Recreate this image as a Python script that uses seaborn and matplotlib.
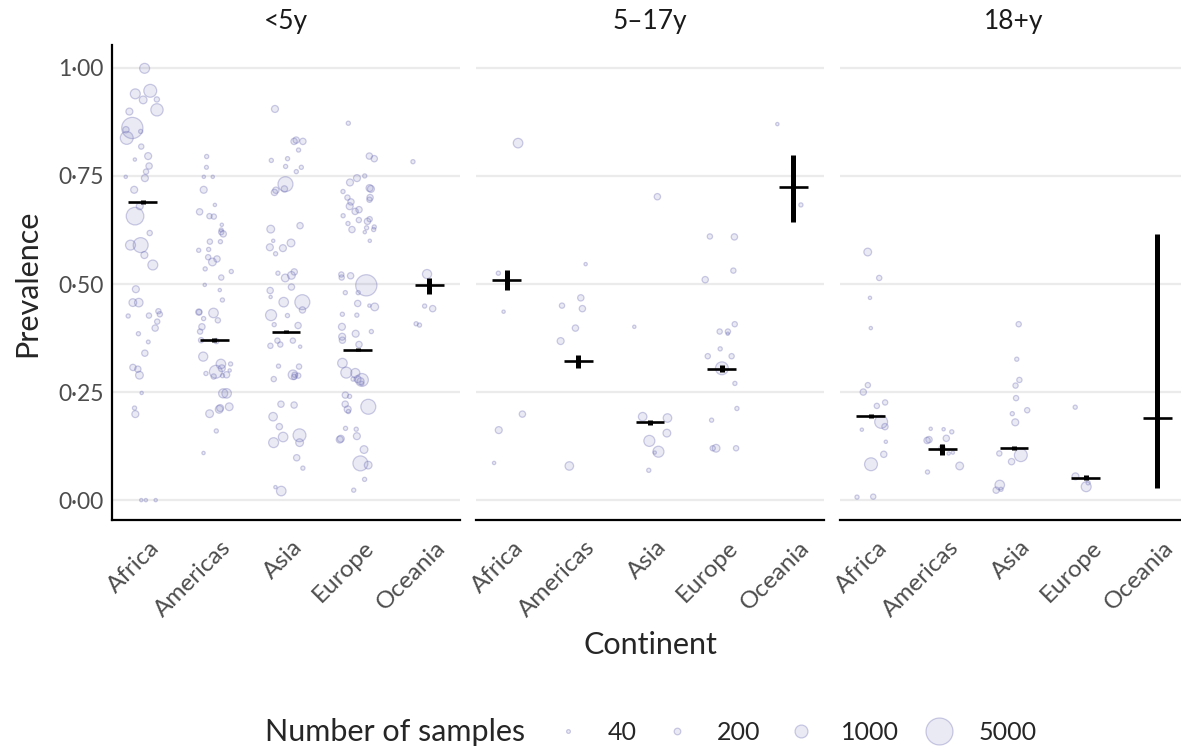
# Prevalence by continent and age group, bubbles sized by sample count
import numpy as np
import pandas as pd
import matplotlib
matplotlib.use("Agg")
import matplotlib.pyplot as plt
import matplotlib.transforms as mtransforms
from matplotlib.lines import Line2D
import seaborn as sns

continents = ["Africa", "Americas", "Asia", "Europe", "Oceania"]
age_groups = ["<5y", "5–17y", "18+y"]
ytick_vals = [0, 0.25, 0.5, 0.75, 1.0]
ytick_labels = ["0·00", "0·25", "0·50", "0·75", "1·00"]
legend_n = [40, 200, 1000, 5000]

# =========================
# Study-level points
# =========================

u5_prev = {
    "Africa": [0.999, 0.947, 0.94, 0.926, 0.927, 0.903, 0.899, 0.861, 0.838, 0.853, 0.857, 0.818,
               0.796, 0.788, 0.773, 0.76, 0.748, 0.745, 0.718, 0.68, 0.657, 0.618, 0.59, 0.59,
               0.567, 0.544, 0.488, 0.457, 0.457, 0.437, 0.43, 0.427, 0.413, 0.398, 0.385, 0.426,
               0.366, 0.34, 0.303, 0.307, 0.289, 0.248, 0.213, 0.199, 0.0, 0.0, 0.0],
    "Americas": [0.795, 0.77, 0.748, 0.748, 0.718, 0.683, 0.667, 0.656, 0.657, 0.637, 0.616, 0.62,
                 0.625, 0.598, 0.598, 0.58, 0.558, 0.562, 0.551, 0.578, 0.535, 0.529, 0.498, 0.515,
                 0.486, 0.463, 0.433, 0.416, 0.435, 0.435, 0.42, 0.401, 0.39, 0.37, 0.368, 0.332,
                 0.315, 0.315, 0.297, 0.305, 0.293, 0.3, 0.29, 0.288, 0.286, 0.247, 0.247, 0.213,
                 0.216, 0.21, 0.2, 0.16, 0.109],
    "Asia": [0.905, 0.83, 0.833, 0.83, 0.81, 0.79, 0.786, 0.772, 0.77, 0.76, 0.731, 0.72, 0.717,
             0.712, 0.627, 0.635, 0.595, 0.6, 0.583, 0.585, 0.57, 0.528, 0.52, 0.514, 0.525, 0.493,
             0.458, 0.458, 0.47, 0.485, 0.428, 0.44, 0.427, 0.404, 0.406, 0.369, 0.369, 0.355,
             0.36, 0.357, 0.309, 0.31, 0.29, 0.28, 0.29, 0.288, 0.285, 0.222, 0.22, 0.193, 0.17,
             0.146, 0.15, 0.133, 0.133, 0.098, 0.074, 0.021, 0.03],
    "Europe": [0.872, 0.796, 0.79, 0.75, 0.745, 0.735, 0.722, 0.72, 0.714, 0.70, 0.695, 0.70,
               0.69, 0.68, 0.668, 0.672, 0.658, 0.65, 0.648, 0.645, 0.64, 0.632, 0.63, 0.626,
               0.626, 0.62, 0.6, 0.522, 0.515, 0.497, 0.519, 0.48, 0.48, 0.447, 0.455, 0.45, 0.43,
               0.428, 0.401, 0.39, 0.385, 0.378, 0.37, 0.36, 0.317, 0.295, 0.294, 0.28, 0.275,
               0.278, 0.28, 0.27, 0.243, 0.24, 0.216, 0.222, 0.21, 0.205, 0.148, 0.14, 0.142,
               0.164, 0.166, 0.117, 0.081, 0.085, 0.048, 0.023],
    "Oceania": [0.783, 0.523, 0.449, 0.443, 0.408, 0.405],
}
u5_n = {
    "Africa": [550, 1000, 550, 300, 110, 900, 230, 3000, 1000, 55, 180, 110, 230, 25, 180, 110,
               25, 230, 230, 230, 2000, 110, 1400, 550, 230, 550, 230, 300, 380, 110, 110, 110,
               110, 180, 55, 55, 40, 180, 180, 180, 300, 25, 55, 230, 25, 25, 25],
    "Americas": [55, 45, 25, 25, 230, 25, 180, 110, 110, 25, 180, 110, 55, 110, 55, 55, 180, 110,
                 300, 55, 55, 55, 25, 110, 25, 55, 500, 110, 180, 110, 55, 180, 110, 110, 110, 450,
                 55, 500, 1000, 230, 55, 25, 180, 55, 110, 500, 450, 230, 300, 300, 300, 55, 25],
    "Asia": [230, 180, 180, 180, 55, 55, 55, 55, 55, 55, 1400, 180, 180, 180, 300, 180, 300, 25,
             230, 230, 55, 180, 300, 300, 55, 180, 1400, 500, 25, 180, 700, 180, 55, 180, 55, 110,
             110, 25, 110, 110, 110, 55, 110, 110, 500, 110, 110, 180, 180, 380, 180, 500, 1000,
             550, 300, 180, 55, 500, 25],
    "Europe": [55, 180, 180, 55, 230, 230, 230, 230, 55, 110, 110, 180, 180, 230, 180, 180, 55,
               110, 110, 180, 55, 55, 55, 180, 55, 25, 25, 110, 110, 3000, 180, 55, 55, 300, 180,
               25, 55, 55, 230, 55, 230, 230, 180, 180, 500, 700, 450, 230, 230, 1000, 55, 55,
               180, 55, 1400, 180, 230, 55, 230, 230, 230, 55, 55, 300, 300, 1400, 55, 55],
    "Oceania": [55, 450, 55, 180, 55, 55],
}

a5_17_prev = {
    "Africa": [0.826, 0.525, 0.436, 0.199, 0.162, 0.086],
    "Americas": [0.546, 0.468, 0.443, 0.45, 0.398, 0.368, 0.079],
    "Asia": [0.702, 0.401, 0.193, 0.19, 0.155, 0.137, 0.112, 0.11, 0.069],
    "Europe": [0.609, 0.61, 0.531, 0.51, 0.407, 0.39, 0.39, 0.385, 0.35, 0.333, 0.333, 0.305,
               0.27, 0.212, 0.185, 0.12, 0.12, 0.12],
    "Oceania": [0.87, 0.683],
}
a5_17_n = {
    "Africa": [500, 55, 25, 180, 230, 25],
    "Americas": [25, 180, 180, 110, 180, 230, 380],
    "Asia": [180, 25, 380, 380, 300, 700, 700, 25, 55],
    "Europe": [180, 110, 110, 180, 110, 110, 110, 25, 55, 110, 110, 1000, 55, 55, 55, 110, 110, 300],
    "Oceania": [25, 55],
}

a18_prev = {
    "Africa": [0.574, 0.514, 0.468, 0.398, 0.266, 0.25, 0.226, 0.218, 0.181, 0.17, 0.163, 0.135,
               0.106, 0.083, 0.008, 0.007],
    "Americas": [0.158, 0.165, 0.164, 0.14, 0.138, 0.143, 0.12, 0.108, 0.11, 0.079, 0.065],
    "Asia": [0.407, 0.326, 0.278, 0.265, 0.236, 0.208, 0.2, 0.18, 0.104, 0.108, 0.089, 0.035,
             0.025, 0.023],
    "Europe": [0.215, 0.055, 0.031, 0.04],
    "Oceania": [],
}
a18_n = {
    "Africa": [300, 110, 25, 25, 110, 180, 110, 110, 1000, 180, 25, 25, 180, 1000, 110, 55],
    "Americas": [55, 25, 25, 180, 180, 180, 180, 25, 25, 300, 55],
    "Asia": [110, 55, 110, 110, 110, 110, 55, 230, 1000, 110, 180, 500, 55, 180],
    "Europe": [55, 230, 550, 55],
    "Oceania": [],
}

# =========================
# Pooled estimate and interval per continent
# =========================

u5_mean = [0.69, 0.37, 0.39, 0.348, 0.497]
u5_lo = [0.686, 0.366, 0.386, 0.345, 0.477]
u5_hi = [0.694, 0.374, 0.394, 0.351, 0.514]

a5_17_mean = [0.509, 0.321, 0.18, 0.304, 0.725]
a5_17_lo = [0.486, 0.306, 0.174, 0.296, 0.644]
a5_17_hi = [0.532, 0.335, 0.186, 0.312, 0.799]

a18_mean = [0.195, 0.118, 0.121, 0.052, 0.19]
a18_lo = [0.19, 0.104, 0.116, 0.046, 0.028]
a18_hi = [0.2, 0.13, 0.126, 0.058, 0.616]

groups = [
    (age_groups[0], u5_prev, u5_n, u5_mean, u5_lo, u5_hi),
    (age_groups[1], a5_17_prev, a5_17_n, a5_17_mean, a5_17_lo, a5_17_hi),
    (age_groups[2], a18_prev, a18_n, a18_mean, a18_lo, a18_hi),
]

rows = []
for age, prev, n, *_ in groups:
    for c in continents:
        for p, k in zip(prev[c], n[c]):
            rows.append((age, c, p, k))
df = pd.DataFrame(rows, columns=["age", "continent", "prevalence", "n"])


def dot_area(n):
    # diameter (px) grows with sqrt(n); converted to points^2 for scatter
    d = (1.5 + 0.36 * np.sqrt(np.asarray(n, dtype=float))) * 0.72
    return d ** 2


base = (0.42, 0.42, 0.71)
fc = base + (0.14,)
ec = base + (0.34,)

sns.set_theme(style="white")
plt.rcParams["font.family"] = ["Lato", "DejaVu Sans"]

W, H = 1181, 749
fig = plt.figure(figsize=(W / 100, H / 100), dpi=100)
top, bottom = 45, 520
pw = 348
panel_left = [112, 476, 840]
axes = [fig.add_axes([l / W, 1 - bottom / H, pw / W, (bottom - top) / H]) for l in panel_left]
shift = mtransforms.ScaledTranslation(4 / 72, -6 / 72, fig.dpi_scale_trans)

np.random.seed(3)
for i, (ax, (age, prev, n, mean, lo, hi)) in enumerate(zip(axes, groups)):
    sub = df[df["age"] == age]
    sns.stripplot(data=sub, x="continent", y="prevalence", order=continents,
                  jitter=0.25, ax=ax, zorder=2)
    # size each point by its sample count
    for coll in ax.collections:
        off = np.asarray(coll.get_offsets())
        if len(off) == 0:
            continue
        for c in continents:
            part = sub[sub["continent"] == c]
            if len(part) == len(off) and np.allclose(off[:, 1], part["prevalence"].values):
                coll.set_sizes(dot_area(part["n"].values))
                break
        coll.set_facecolor(fc)
        coll.set_edgecolor(ec)
        coll.set_linewidth(0.9)

    x = np.arange(len(continents))
    ax.vlines(x, lo, hi, color="black", lw=3.6, zorder=5)
    ax.hlines(mean, x - 0.2, x + 0.2, color="black", lw=1.9, zorder=6)

    ax.set_xlim(-0.43, 4.43)
    ax.set_ylim(-0.046, 1.053)
    ax.set_yticks(ytick_vals)
    ax.grid(axis="y", color="#ebebeb", lw=1.6)
    ax.grid(axis="x", visible=False)
    ax.set_axisbelow(True)
    ax.set_xlabel("")
    ax.set_ylabel("")
    for s in ["top", "right"]:
        ax.spines[s].set_visible(False)
    ax.spines["bottom"].set_color("black")
    ax.spines["bottom"].set_linewidth(1.6)
    if i == 0:
        ax.spines["left"].set_color("black")
        ax.spines["left"].set_linewidth(1.6)
        ax.set_yticklabels(ytick_labels, fontsize=16.5, color="#4d4d4d")
    else:
        ax.spines["left"].set_visible(False)
        ax.set_yticklabels([])
    ax.tick_params(length=0, pad=6)
    ax.set_xticks(x)
    ax.set_xticklabels(continents, rotation=45, ha="right", rotation_mode="anchor",
                       fontsize=17.5, color="#4d4d4d")
    for lab in ax.get_xticklabels():
        lab.set_transform(lab.get_transform() + shift)
    ax.text(0.5, 1 + 23 / 475, age, transform=ax.transAxes, ha="center", va="center",
            fontsize=19, color="#1a1a1a")

fig.text(27 / W, 1 - 283 / H, "Prevalence", rotation=90, ha="center", va="center", fontsize=22)
fig.text(650 / W, 1 - 645 / H, "Continent", ha="center", va="center", fontsize=22)

# legend
fig.text(265 / W, 1 - 732 / H, "Number of samples", ha="left", va="center", fontsize=22)
handles = [Line2D([], [], marker="o", ls="", markersize=np.sqrt(dot_area(k)),
                  markerfacecolor=fc, markeredgecolor=ec, markeredgewidth=0.9)
           for k in legend_n]
fig.legend(handles, [str(k) for k in legend_n], loc="center left",
           bbox_to_anchor=(553 / W, 1 - 732 / H), ncol=4, frameon=False, fontsize=18,
           handletextpad=1.0, columnspacing=1.0, handlelength=1.2,
           borderpad=0, borderaxespad=0)

fig.savefig("out.png", dpi=100)
